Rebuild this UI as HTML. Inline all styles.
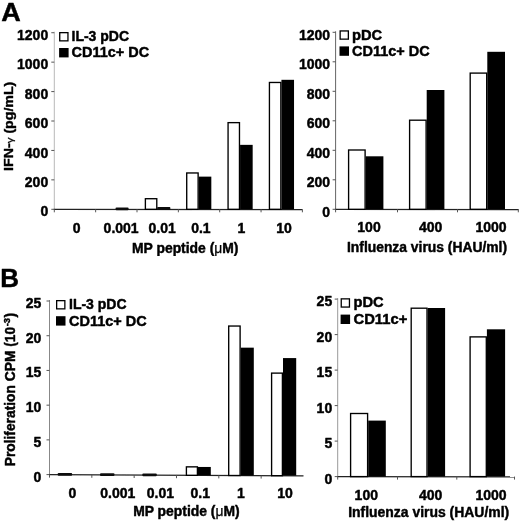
<!DOCTYPE html>
<html><head><meta charset="utf-8"><title>Figure</title>
<style>
html,body{margin:0;padding:0;background:#fff;}
body{width:520px;height:521px;overflow:hidden;}
svg{display:block;}
text{font-family:"Liberation Sans",Arial,sans-serif;font-weight:bold;font-size:14px;fill:#000;stroke:#000;stroke-width:0.45px;stroke-linejoin:round;}
.big{font-size:25.5px;}
.r{text-anchor:end;}
.m{text-anchor:middle;}
.mu{font-weight:normal;stroke-width:0.25px;}
</style></head><body>
<svg width="520" height="521" viewBox="0 0 520 521">
<defs><filter id="soft" x="0" y="0" width="520" height="521" filterUnits="userSpaceOnUse"><feGaussianBlur stdDeviation="0.35"/></filter></defs>
<rect width="520" height="521" fill="#fff"/>
<g filter="url(#soft)">

<text class="big" transform="translate(1.2,21) scale(1.06,1)">A</text>
<line x1="54.3" y1="31.72" x2="54.3" y2="209.3" stroke="#b8b8b8" stroke-width="1"/>
<line x1="53.8" y1="209.3" x2="302.40000000000003" y2="209.60000000000002" stroke="#222" stroke-width="1.2"/>
<line x1="54.30" y1="209.3" x2="54.30" y2="212.3" stroke="#555" stroke-width="1"/>
<line x1="95.65" y1="209.3" x2="95.65" y2="212.3" stroke="#555" stroke-width="1"/>
<line x1="137.00" y1="209.3" x2="137.00" y2="212.3" stroke="#555" stroke-width="1"/>
<line x1="178.35" y1="209.3" x2="178.35" y2="212.3" stroke="#555" stroke-width="1"/>
<line x1="219.70" y1="209.3" x2="219.70" y2="212.3" stroke="#555" stroke-width="1"/>
<line x1="261.05" y1="209.3" x2="261.05" y2="212.3" stroke="#555" stroke-width="1"/>
<line x1="302.40" y1="209.3" x2="302.40" y2="212.3" stroke="#555" stroke-width="1"/>
<line x1="51.3" y1="209.30" x2="54.3" y2="209.30" stroke="#555" stroke-width="1"/>
<text class="r" x="48.2" y="216.40">0</text>
<line x1="51.3" y1="179.87" x2="54.3" y2="179.87" stroke="#555" stroke-width="1"/>
<text class="r" x="48.2" y="186.98">200</text>
<line x1="51.3" y1="150.44" x2="54.3" y2="150.44" stroke="#555" stroke-width="1"/>
<text class="r" x="48.2" y="157.56">400</text>
<line x1="51.3" y1="121.01" x2="54.3" y2="121.01" stroke="#555" stroke-width="1"/>
<text class="r" x="48.2" y="128.14">600</text>
<line x1="51.3" y1="91.58" x2="54.3" y2="91.58" stroke="#555" stroke-width="1"/>
<text class="r" x="48.2" y="98.72">800</text>
<line x1="51.3" y1="62.15" x2="54.3" y2="62.15" stroke="#555" stroke-width="1"/>
<text class="r" x="48.2" y="69.30">1000</text>
<line x1="51.3" y1="32.72" x2="54.3" y2="32.72" stroke="#555" stroke-width="1"/>
<text class="r" x="48.2" y="39.88">1200</text>
<rect x="115.53" y="207.60" width="13.1" height="2.7" rx="1" fill="#111"/>
<rect x="145.38" y="198.72" width="11.40" height="10.58" fill="#fff" stroke="#000" stroke-width="1.35"/><rect x="157.38" y="207.39" width="12.60" height="1.91" fill="#000"/>
<rect x="157.38" y="206.90" width="13.0" height="3.2" rx="1" fill="#111"/>
<rect x="186.72" y="172.97" width="11.40" height="36.33" fill="#fff" stroke="#000" stroke-width="1.35"/><rect x="198.72" y="176.63" width="12.60" height="32.67" fill="#000"/>
<rect x="228.07" y="122.64" width="11.40" height="86.66" fill="#fff" stroke="#000" stroke-width="1.35"/><rect x="240.07" y="144.85" width="12.60" height="64.45" fill="#000"/>
<rect x="269.43" y="82.47" width="11.40" height="126.83" fill="#fff" stroke="#000" stroke-width="1.35"/><rect x="281.43" y="79.81" width="12.60" height="129.49" fill="#000"/>
<text class="m" x="76.77" y="232.7">0</text>
<text class="m" x="121.12" y="232.7">0.001</text>
<text class="m" x="162.08" y="232.7">0.01</text>
<text class="m" x="200.92" y="232.7">0.1</text>
<text class="m" x="241.38" y="232.7">1</text>
<text class="m" x="284.03" y="232.7">10</text>
<text x="132" y="252.5" textLength="106.5" lengthAdjust="spacingAndGlyphs">MP peptide (<tspan class="mu">μ</tspan>M)</text>
<text transform="translate(13.1,170.9) rotate(-90) scale(1.012,0.85)">IFN-<tspan class="mu" font-size="11.5">γ</tspan> (pg/mL)</text>
<rect x="59.75" y="32.65" width="8.2" height="8.2" fill="#fff" stroke="#000" stroke-width="1.3"/>
<rect x="59.10" y="48.00" width="9.5" height="9.4" fill="#000"/>
<text x="71.5" y="41.3">IL-3 pDC</text>
<text x="71.5" y="57.2" textLength="77.6" lengthAdjust="spacingAndGlyphs">CD11c+ DC</text>
<line x1="335.6" y1="31.30" x2="335.6" y2="209.3" stroke="#666" stroke-width="1"/>
<line x1="335.1" y1="209.3" x2="518.6" y2="209.60000000000002" stroke="#222" stroke-width="1.2"/>
<line x1="335.6" y1="209.3" x2="335.6" y2="212.3" stroke="#555" stroke-width="1"/>
<line x1="397.5" y1="209.3" x2="397.5" y2="212.3" stroke="#555" stroke-width="1"/>
<line x1="457.5" y1="209.3" x2="457.5" y2="212.3" stroke="#555" stroke-width="1"/>
<line x1="518.3" y1="209.3" x2="518.3" y2="212.3" stroke="#555" stroke-width="1"/>
<line x1="332.6" y1="209.30" x2="335.6" y2="209.30" stroke="#555" stroke-width="1"/>
<text class="r" x="330.1" y="216.70">0</text>
<line x1="332.6" y1="179.80" x2="335.6" y2="179.80" stroke="#555" stroke-width="1"/>
<text class="r" x="330.1" y="187.18">200</text>
<line x1="332.6" y1="150.30" x2="335.6" y2="150.30" stroke="#555" stroke-width="1"/>
<text class="r" x="330.1" y="157.66">400</text>
<line x1="332.6" y1="120.80" x2="335.6" y2="120.80" stroke="#555" stroke-width="1"/>
<text class="r" x="330.1" y="128.14">600</text>
<line x1="332.6" y1="91.30" x2="335.6" y2="91.30" stroke="#555" stroke-width="1"/>
<text class="r" x="330.1" y="98.62">800</text>
<line x1="332.6" y1="61.80" x2="335.6" y2="61.80" stroke="#555" stroke-width="1"/>
<text class="r" x="330.1" y="69.10">1000</text>
<line x1="332.6" y1="32.30" x2="335.6" y2="32.30" stroke="#555" stroke-width="1"/>
<text class="r" x="330.1" y="39.58">1200</text>
<rect x="348.60" y="150.00" width="16.50" height="59.30" fill="#fff" stroke="#000" stroke-width="1.35"/><rect x="365.70" y="156.30" width="17.70" height="53.00" fill="#000"/>
<rect x="409.60" y="120.20" width="16.50" height="89.10" fill="#fff" stroke="#000" stroke-width="1.35"/><rect x="426.70" y="90.00" width="17.70" height="119.30" fill="#000"/>
<rect x="470.20" y="73.10" width="16.50" height="136.20" fill="#fff" stroke="#000" stroke-width="1.35"/><rect x="487.30" y="51.80" width="17.70" height="157.50" fill="#000"/>
<text class="m" x="369.0" y="232.2">100</text>
<text class="m" x="430.7" y="232.2">400</text>
<text class="m" x="491.0" y="232.2">1000</text>
<text x="347" y="252.3" textLength="160" lengthAdjust="spacingAndGlyphs">Influenza virus (HAU/ml)</text>
<rect x="340.15" y="30.95" width="8.2" height="8.2" fill="#fff" stroke="#000" stroke-width="1.3"/>
<rect x="339.50" y="46.40" width="9.5" height="9.4" fill="#000"/>
<text x="352" y="39.8" textLength="30.2" lengthAdjust="spacingAndGlyphs">pDC</text>
<text x="352" y="55.8" textLength="77.6" lengthAdjust="spacingAndGlyphs">CD11c+ DC</text>
<text class="big" transform="translate(0.3,287) scale(1.02,1)">B</text>
<line x1="49.5" y1="300.00" x2="49.5" y2="474.6" stroke="#888" stroke-width="1"/>
<line x1="49.0" y1="474.6" x2="303.48" y2="475.8" stroke="#222" stroke-width="1.2"/>
<line x1="49.50" y1="474.60" x2="49.50" y2="477.60" stroke="#555" stroke-width="1"/>
<line x1="91.83" y1="474.80" x2="91.83" y2="477.80" stroke="#555" stroke-width="1"/>
<line x1="134.16" y1="475.00" x2="134.16" y2="478.00" stroke="#555" stroke-width="1"/>
<line x1="176.49" y1="475.20" x2="176.49" y2="478.20" stroke="#555" stroke-width="1"/>
<line x1="218.82" y1="475.40" x2="218.82" y2="478.40" stroke="#555" stroke-width="1"/>
<line x1="261.15" y1="475.60" x2="261.15" y2="478.60" stroke="#555" stroke-width="1"/>
<line x1="46.5" y1="474.60" x2="49.5" y2="474.60" stroke="#555" stroke-width="1"/>
<text class="r" x="41.4" y="481.60">0</text>
<line x1="46.5" y1="439.88" x2="49.5" y2="439.88" stroke="#555" stroke-width="1"/>
<text class="r" x="41.4" y="446.85">5</text>
<line x1="46.5" y1="405.16" x2="49.5" y2="405.16" stroke="#555" stroke-width="1"/>
<text class="r" x="41.4" y="412.10">10</text>
<line x1="46.5" y1="370.44" x2="49.5" y2="370.44" stroke="#555" stroke-width="1"/>
<text class="r" x="41.4" y="377.35">15</text>
<line x1="46.5" y1="335.72" x2="49.5" y2="335.72" stroke="#555" stroke-width="1"/>
<text class="r" x="41.4" y="342.60">20</text>
<line x1="46.5" y1="301.00" x2="49.5" y2="301.00" stroke="#555" stroke-width="1"/>
<text class="r" x="41.4" y="307.85">25</text>
<rect x="57.66" y="473.10" width="14.5" height="2.7" rx="1" fill="#111"/>
<rect x="100.00" y="473.30" width="14.5" height="2.7" rx="1" fill="#111"/>
<rect x="142.32" y="473.50" width="14.5" height="2.7" rx="1" fill="#111"/>
<rect x="186.40" y="466.87" width="11.00" height="8.43" fill="#fff" stroke="#000" stroke-width="1.35"/><rect x="198.00" y="466.96" width="12.80" height="8.34" fill="#000"/>
<rect x="228.70" y="326.04" width="11.40" height="149.46" fill="#fff" stroke="#000" stroke-width="1.35"/><rect x="240.70" y="347.66" width="13.10" height="127.84" fill="#000"/>
<rect x="271.60" y="373.12" width="10.80" height="102.58" fill="#fff" stroke="#000" stroke-width="1.35"/><rect x="283.00" y="358.08" width="13.20" height="117.62" fill="#000"/>
<text class="m" x="72.46" y="497.6">0</text>
<text class="m" x="117.80" y="497.6">0.001</text>
<text class="m" x="160.42" y="497.6">0.01</text>
<text class="m" x="200.25" y="497.6">0.1</text>
<text class="m" x="240.98" y="497.6">1</text>
<text class="m" x="285.01" y="497.6">10</text>
<text x="133.2" y="515.8" textLength="106.5" lengthAdjust="spacingAndGlyphs">MP peptide (<tspan class="mu">μ</tspan>M)</text>
<text transform="translate(14.6,466.3) rotate(-90) scale(0.986,1)">Proliferation CPM (10<tspan font-size="9.5" dy="-5" dx="0.5">-3</tspan><tspan dy="5" dx="0.4">)</tspan></text>
<rect x="56.65" y="300.65" width="8.2" height="8.2" fill="#fff" stroke="#000" stroke-width="1.3"/>
<rect x="56.00" y="316.20" width="9.5" height="9.4" fill="#000"/>
<text x="69" y="309">IL-3 pDC</text>
<text x="69" y="325.6" textLength="77.6" lengthAdjust="spacingAndGlyphs">CD11c+ DC</text>
<line x1="337.7" y1="298.10" x2="337.7" y2="476.6" stroke="#999" stroke-width="1"/>
<line x1="337.2" y1="476.6" x2="515" y2="476.90000000000003" stroke="#222" stroke-width="1.2"/>
<line x1="337.7" y1="476.6" x2="337.7" y2="479.6" stroke="#555" stroke-width="1"/>
<line x1="397.5" y1="476.6" x2="397.5" y2="479.6" stroke="#555" stroke-width="1"/>
<line x1="456.8" y1="476.6" x2="456.8" y2="479.6" stroke="#555" stroke-width="1"/>
<line x1="514.5" y1="476.6" x2="514.5" y2="479.6" stroke="#555" stroke-width="1"/>
<line x1="334.7" y1="476.60" x2="337.7" y2="476.60" stroke="#555" stroke-width="1"/>
<text class="r" x="332.2" y="483.90">0</text>
<line x1="334.7" y1="441.10" x2="337.7" y2="441.10" stroke="#555" stroke-width="1"/>
<text class="r" x="332.2" y="448.40">5</text>
<line x1="334.7" y1="405.60" x2="337.7" y2="405.60" stroke="#555" stroke-width="1"/>
<text class="r" x="332.2" y="412.90">10</text>
<line x1="334.7" y1="370.10" x2="337.7" y2="370.10" stroke="#555" stroke-width="1"/>
<text class="r" x="332.2" y="377.40">15</text>
<line x1="334.7" y1="334.60" x2="337.7" y2="334.60" stroke="#555" stroke-width="1"/>
<text class="r" x="332.2" y="341.90">20</text>
<line x1="334.7" y1="299.10" x2="337.7" y2="299.10" stroke="#555" stroke-width="1"/>
<text class="r" x="332.2" y="306.40">25</text>
<rect x="350.60" y="413.50" width="17.00" height="63.10" fill="#fff" stroke="#000" stroke-width="1.35"/><rect x="368.20" y="420.60" width="17.60" height="56.00" fill="#000"/>
<rect x="411.20" y="308.20" width="15.80" height="168.40" fill="#fff" stroke="#000" stroke-width="1.35"/><rect x="427.60" y="308.00" width="17.50" height="168.60" fill="#000"/>
<rect x="470.10" y="336.90" width="16.20" height="139.70" fill="#fff" stroke="#000" stroke-width="1.35"/><rect x="486.90" y="329.30" width="18.20" height="147.30" fill="#000"/>
<text class="m" x="366.3" y="499.7">100</text>
<text class="m" x="430.7" y="499.7">400</text>
<text class="m" x="491.1" y="499.7">1000</text>
<text x="348.2" y="516.7" textLength="161" lengthAdjust="spacingAndGlyphs">Influenza virus (HAU/ml)</text>
<rect x="341.25" y="298.85" width="8.2" height="8.2" fill="#fff" stroke="#000" stroke-width="1.3"/>
<rect x="340.60" y="314.60" width="9.5" height="9.4" fill="#000"/>
<text x="353.5" y="307" textLength="30.2" lengthAdjust="spacingAndGlyphs">pDC</text>
<text x="353.5" y="323.9" textLength="53.8" lengthAdjust="spacingAndGlyphs">CD11c+</text>
</g></svg></body></html>
